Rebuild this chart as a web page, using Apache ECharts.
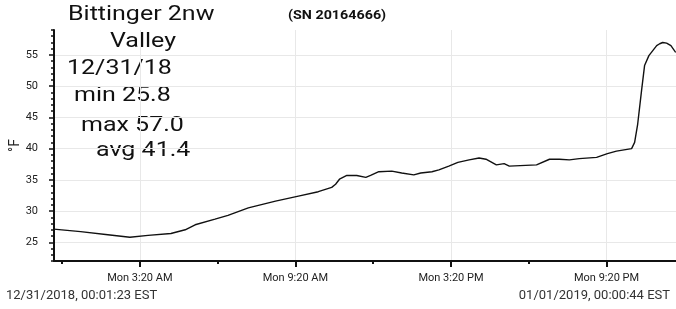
<!DOCTYPE html>
<html>
<head>
<meta charset="utf-8">
<script src="https://cdn.jsdelivr.net/npm/echarts@6/dist/echarts.min.js"></script>
<style>
html,body{margin:0;padding:0;background:#fff;}
#chart{width:676px;height:309px;}
</style>
</head>
<body>
<div id="chart"></div>
<script>
// ---- data ----
var times = ["00:01","01:03","02:06","02:57","03:39","04:32","05:05","05:28","06:14","06:44","07:31","08:34","09:27","10:13","10:44","10:53","11:02","11:19","11:42","12:03","12:14","12:33","13:03","13:26","13:54","14:10","14:36","14:52","15:15","15:36","16:02","16:25","16:41","17:05","17:23","17:35","18:38","19:08","19:31","19:54","20:17","20:57","21:22","21:43","22:18","22:25","22:32","22:41","22:48","22:58","23:07","23:16","23:23","23:30","23:39","23:49","24:00"];
var temps = [27.1,26.7,26.2,25.8,26.1,26.4,27.0,27.8,28.7,29.3,30.5,31.6,32.4,33.1,33.8,34.3,35.1,35.7,35.7,35.4,35.7,36.3,36.4,36.1,35.8,36.1,36.3,36.6,37.2,37.8,38.2,38.5,38.3,37.4,37.6,37.2,37.4,38.3,38.3,38.2,38.4,38.6,39.2,39.6,40.0,41.0,43.9,49.3,53.3,54.9,55.7,56.5,56.8,57.0,56.9,56.5,55.4];
var xStartTime = "00:01:23";
var xEndTime = "24:00:44";
var xTickTimes = ["03:20","09:20","15:20","21:20"];
var xTickLabels = ["Mon 3:20 AM","Mon 9:20 AM","Mon 3:20 PM","Mon 9:20 PM"];
var xMinorTickTimes = ["00:20","06:20","12:20","18:20"];
var yTicks = [25,30,35,40,45,50,55];
var yMin = 22, yMax = 59;
var titleLines = ["Bittinger 2nw","Valley","12/31/18","min 25.8","max 57.0","avg 41.4"];
var serialText = "(SN 20164666)";
var startText = "12/31/2018, 00:01:23 EST";
var endText = "01/01/2019, 00:00:44 EST";
var yName = "°F";

function toHours(s){
  var p = s.split(":").map(Number);
  return p[0] + (p[1]||0)/60 + (p[2]||0)/3600;
}
var xMin = toHours(xStartTime), xMax = toHours(xEndTime);
var tickH = xTickTimes.map(toHours);
var minorH = xMinorTickTimes.map(toHours);
var seriesData = times.map(function(t,i){ return [toHours(t), temps[i]]; });

var chart = echarts.init(document.getElementById('chart'), null, {renderer:'canvas'});
var FONT = 'Roboto';
var titleX = [68,110,67,74,81,96];
var titleY = [6,33,60,87,117,142];
var graphics = titleLines.map(function(t,i){
  return {type:'text', x: titleX[i], y: titleY[i]-2, scaleX:1.19, scaleY:1,
    style:{text:t, font:'21px Roboto', fill:'#111', textVerticalAlign:'top'}};
});
graphics.push({type:'text', x:288, y:9, scaleX:1.1, style:{text:serialText, font:'bold 13px Roboto', fill:'#111', textVerticalAlign:'top'}});
graphics.push({type:'text', x:6, y:289, style:{text:startText, font:'13px Roboto', fill:'#333', textVerticalAlign:'top'}});
graphics.push({type:'text', x:670, y:289, style:{text:endText, font:'13px Roboto', fill:'#333', textAlign:'right', textVerticalAlign:'top'}});

chart.setOption({
  animation:false,
  textStyle:{fontFamily:FONT},
  grid:{left:54, right:0, top:30, bottom:48, containLabel:false, outerBoundsMode:'none'},
  xAxis:[{
    type:'value', min:xMin, max:xMax, position:'bottom',
    axisLine:{show:true, lineStyle:{color:'#111', width:2}},
    axisTick:{show:true, customValues:tickH, length:6, lineStyle:{color:'#111', width:2}},
    axisLabel:{customValues:tickH, margin:12, fontSize:11, color:'#222', fontFamily:FONT,
      formatter:function(v){
        for (var i=0;i<tickH.length;i++){ if (Math.abs(tickH[i]-v)<1e-6) return xTickLabels[i]; }
        return '';
      }},
    splitLine:{show:true, lineStyle:{color:'#e8e8e8', width:1}}
  },{
    type:'value', min:xMin, max:xMax, position:'bottom', gridIndex:0,
    axisLine:{show:false},
    axisTick:{show:true, customValues:minorH, length:3, lineStyle:{color:'#111', width:2}},
    axisLabel:{show:false},
    splitLine:{show:false}
  }],
  yAxis:[{
    type:'value', min:yMin, max:yMax, position:'left',
    name:yName, nameLocation:'middle', nameGap:32, nameRotate:90, nameMoveOverlap:false,
    nameTextStyle:{fontSize:14, color:'#222', fontFamily:FONT},
    axisLine:{show:true, lineStyle:{color:'#111', width:2}},
    axisTick:{show:true, customValues:yTicks, length:5, lineStyle:{color:'#111', width:1.5}},
    axisLabel:{customValues:yTicks, margin:16, fontSize:11, color:'#222', fontFamily:FONT},
    splitLine:{show:true, lineStyle:{color:'#e8e8e8', width:1}}
  },{
    type:'value', min:yMin, max:yMax, interval:1, position:'left',
    axisLine:{show:false},
    axisTick:{show:true, length:3, lineStyle:{color:'#111', width:1.5}},
    axisLabel:{show:false},
    splitLine:{show:false}
  }],
  series:[{
    type:'line', xAxisIndex:0, yAxisIndex:0, data:seriesData,
    showSymbol:false, smooth:false,
    lineStyle:{color:'#111', width:1.4}
  }],
  graphic:graphics
});
</script>
</body>
</html>
